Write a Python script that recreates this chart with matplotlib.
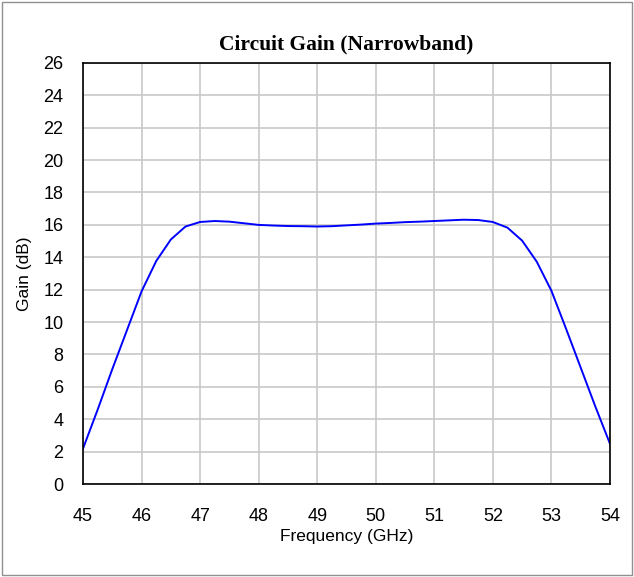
import matplotlib.pyplot as plt
from matplotlib.patches import Rectangle

# Frequency sweep (GHz) and measured gain (dB)
freq = [45.0, 45.25, 45.5, 45.75, 46.0, 46.25, 46.5, 46.75, 47.0, 47.25, 47.5, 47.75,
        48.0, 48.25, 48.5, 48.75, 49.0, 49.25, 49.5, 49.75, 50.0, 50.25, 50.5, 50.75,
        51.0, 51.25, 51.5, 51.75, 52.0, 52.25, 52.5, 52.75, 53.0, 53.25, 53.5, 53.75, 54.0]
gain = [2.2, 4.6, 7.1, 9.5, 11.9, 13.77, 15.1, 15.9, 16.18, 16.24, 16.2, 16.1,
        16.0, 15.96, 15.93, 15.92, 15.9, 15.92, 15.97, 16.02, 16.08, 16.12, 16.17, 16.2,
        16.24, 16.28, 16.32, 16.3, 16.18, 15.83, 15.03, 13.73, 11.94, 9.6, 7.2, 4.8, 2.5]

x_ticks = list(range(45, 55))
y_ticks = list(range(0, 27, 2))

sans = ['Liberation Sans', 'DejaVu Sans']

fig = plt.figure(figsize=(6.34, 5.77), dpi=100)
ax = fig.add_axes([0.131, 0.161, 0.831, 0.730])

ax.plot(freq, gain, color='#0000ff', linewidth=1.4)

ax.set_xlim(45, 54)
ax.set_ylim(0, 26)
ax.set_xticks(x_ticks)
ax.set_yticks(y_ticks)
ax.set_xticklabels([str(t) for t in x_ticks], family=sans, fontsize=13)
ax.set_yticklabels([str(t) for t in y_ticks], family=sans, fontsize=13)
ax.tick_params(axis='x', length=0, pad=17)
ax.tick_params(axis='y', length=0, pad=14)
ax.grid(True, color='#c8c8c8', linewidth=1.2)
ax.set_axisbelow(True)
for s in ax.spines.values():
    s.set_linewidth(1.2)
    s.set_color('black')

ax.set_xlabel('Frequency (GHz)', family=sans, fontsize=12.5, labelpad=3)
ax.set_ylabel('Gain (dB)', family=sans, fontsize=12.5, labelpad=8)
ax.set_title('Circuit Gain (Narrowband)', family=['Liberation Serif', 'DejaVu Serif'],
             fontweight='bold', fontsize=15.5, pad=10)

# outer frame round the whole figure
fig.patches.append(Rectangle((0.003, 0.003), 0.994, 0.994, transform=fig.transFigure,
                             fill=False, edgecolor='#909090', linewidth=1))

fig.savefig('out.png', dpi=100)
